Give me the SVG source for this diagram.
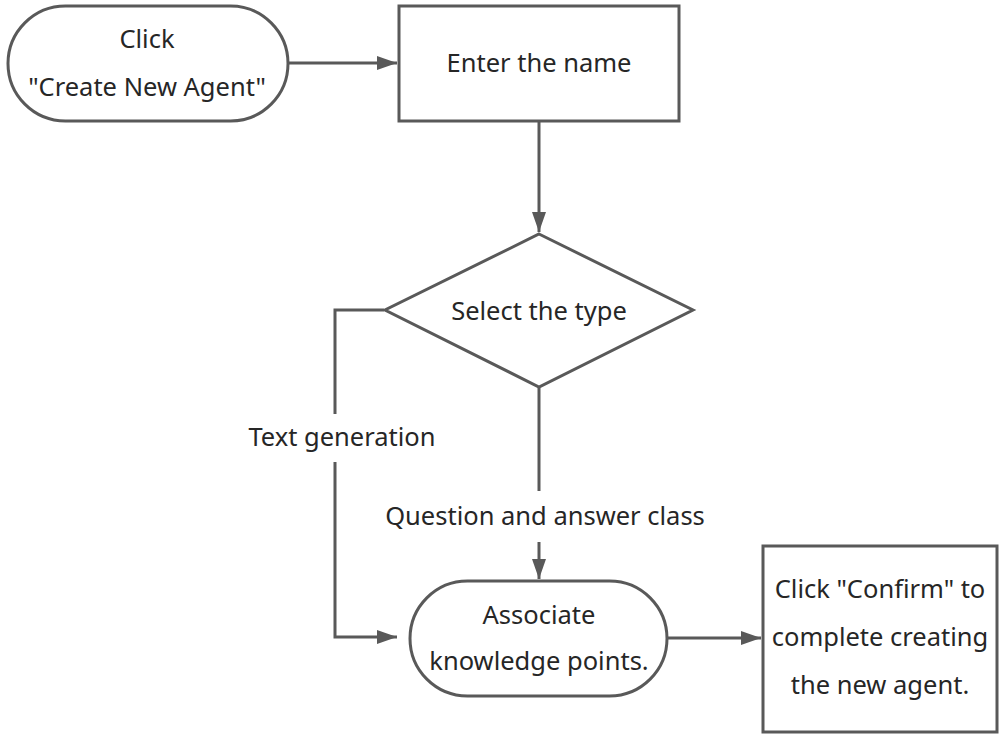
<svg xmlns="http://www.w3.org/2000/svg" width="1007" height="738" viewBox="0 0 1007 738">
<style>
.s{fill:#fff;stroke:#595959;stroke-width:3}
.c{fill:none;stroke:#595959;stroke-width:3}
text{font-family:"Noto Sans","Open Sans",sans-serif;font-size:25.5px;fill:#262626;text-anchor:middle;dominant-baseline:central}
</style>
<defs>
<marker id="a" markerUnits="userSpaceOnUse" markerWidth="20" markerHeight="20" refX="20" refY="10" orient="auto">
<path d="M0,3 L20,10 L0,17 Z" fill="#595959"/>
</marker>
</defs>
<rect width="1007" height="738" fill="#fff"/>
<g id="connectors">
<path class="c" d="M289,63 L397,63" marker-end="url(#a)"/>
<path class="c" d="M539,122 L539,232" marker-end="url(#a)"/>
<path class="c" d="M384,310 L335,310 L335,414"/>
<path class="c" d="M335,462 L335,637 L397,637" marker-end="url(#a)"/>
<path class="c" d="M539,388 L539,491"/>
<path class="c" d="M539,542 L539,579" marker-end="url(#a)"/>
<path class="c" d="M668,638 L761,638" marker-end="url(#a)"/>
<text x="342" y="436">Text generation</text>
<text x="545" y="515">Question and answer class</text>
</g>
<g id="n1">
<rect class="s" x="8" y="6" width="280" height="115" rx="57.5"/>
<text x="147" y="38">Click</text>
<text x="147" y="86">"Create New Agent"</text>
</g>
<g id="n2">
<rect class="s" x="399" y="6" width="280" height="115"/>
<text x="539" y="62">Enter the name</text>
</g>
<g id="n3">
<path class="s" d="M539,234 L693,310 L539,387 L385,310 Z"/>
<text x="539" y="310">Select the type</text>
</g>
<g id="n4">
<rect class="s" x="410" y="581" width="257" height="115" rx="57.5"/>
<text x="539" y="614">Associate</text>
<text x="539" y="660">knowledge points.</text>
</g>
<g id="n5">
<rect class="s" x="763" y="546" width="234" height="186"/>
<text x="880" y="588">Click "Confirm" to</text>
<text x="880" y="636">complete creating</text>
<text x="880" y="684">the new agent.</text>
</g>
</svg>
